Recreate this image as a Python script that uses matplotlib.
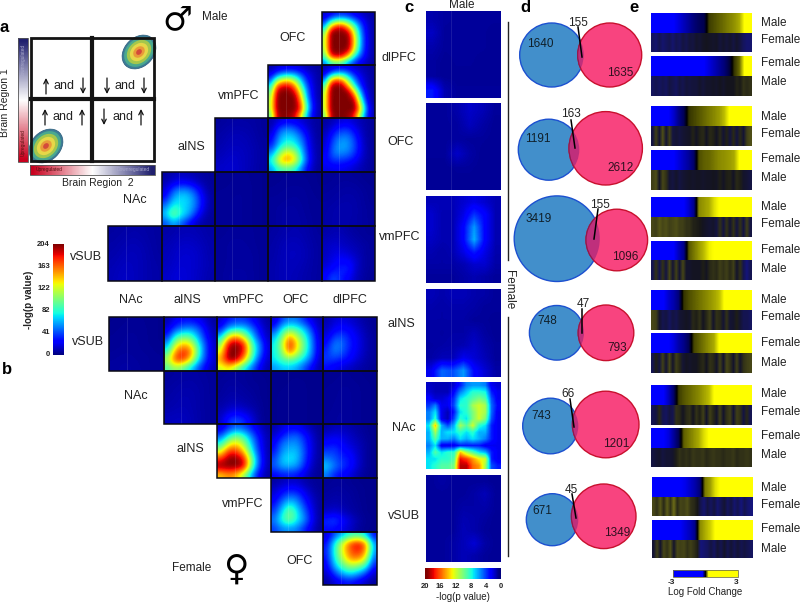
import matplotlib
matplotlib.use("Agg")
import matplotlib.pyplot as plt
import numpy as np
from matplotlib.colors import LinearSegmentedColormap
from matplotlib.patches import Circle, Ellipse, Rectangle

plt.rcParams["font.family"] = ["Liberation Sans", "DejaVu Sans"]

# heatmap values, -log(p) scale 0-204, rows run top to bottom
m_ofc_dlpfc = [[14,22,30,32,28,22,14,10,6],[30,70,95,100,80,55,32,16,8],[60,150,185,185,145,95,48,20,8],[100,204,204,204,195,125,58,22,8],[115,204,204,204,204,140,64,24,8],[115,204,204,204,204,140,64,24,8],[110,204,204,204,195,125,58,22,8],[90,175,195,185,140,78,42,20,8],[50,85,95,85,55,34,20,12,6]]
m_vmpfc_ofc = [[8,14,18,20,18,14,10,8,5],[18,40,55,60,55,38,20,12,6],[40,100,125,130,105,65,30,14,6],[70,165,185,185,155,90,42,16,7],[95,195,204,204,185,120,52,18,7],[110,204,204,204,204,145,60,20,7],[115,204,204,204,204,165,75,24,8],[115,204,204,204,204,175,80,25,8],[95,195,204,200,190,135,60,20,7]]
m_vmpfc_dlpfc = [[8,14,20,22,20,14,10,8,5],[18,50,70,70,52,30,18,10,6],[45,140,170,150,95,52,25,12,6],[85,195,204,200,145,80,35,14,6],[110,204,204,204,200,135,58,18,7],[115,204,204,204,204,185,85,24,7],[115,204,204,204,204,204,120,35,8],[115,204,204,204,204,204,145,48,10],[95,195,204,204,200,180,105,38,9]]
m_ains_vmpfc = [[5,7,7,7,5],[7,10,10,8,5],[8,11,11,9,6],[10,14,12,10,6],[13,15,12,9,6]]
m_ains_ofc = [[8,16,22,20,14,9,5],[10,42,55,45,26,11,5],[20,58,72,65,42,14,5],[28,68,85,78,52,16,6],[50,100,140,115,60,18,6],[75,145,160,140,70,20,6],[55,85,90,80,42,14,5]]
m_ains_dlpfc = [[6,10,16,18,12,8,5],[8,22,35,35,20,9,5],[12,36,52,52,30,10,5],[14,44,62,56,36,12,5],[18,50,55,50,32,12,5],[24,35,35,30,22,10,5],[18,20,20,18,12,8,5]]
m_nac_ains = [[6,10,12,10,8,6,5],[10,20,26,24,16,8,5],[16,45,60,55,38,14,5],[28,62,72,68,48,20,6],[50,82,72,65,48,18,6],[65,105,78,62,32,12,5],[40,60,45,28,12,7,5]]
m_nac_vmpfc = [[3,4,4,4,3],[4,4,5,4,3],[4,5,5,4,3],[4,5,5,4,3],[4,5,5,4,3]]
m_nac_ofc = [[3,4,4,4,3],[4,5,5,5,3],[5,5,6,5,4],[5,7,7,5,4],[5,7,7,6,4]]
m_nac_dlpfc = [[4,5,5,4,3],[5,6,7,6,4],[6,7,8,7,4],[7,9,9,7,5],[7,9,8,7,5]]
m_vsub_nac = [[6,7,8,7,6],[7,9,10,8,6],[8,10,11,9,6],[9,12,11,9,7],[10,13,11,9,7]]
m_vsub_ains = [[7,9,10,9,7],[9,12,13,11,8],[10,14,15,13,8],[11,15,15,13,9],[13,17,15,12,8]]
m_vsub_vmpfc = [[4,5,5,5,4],[5,6,6,5,4],[5,6,6,6,4],[5,6,6,6,4],[5,7,7,6,4]]
m_vsub_ofc = [[6,8,9,8,5],[7,10,11,9,6],[7,11,12,10,6],[8,11,11,9,6],[8,11,10,8,6]]
m_vsub_dlpfc = [[7,9,9,7,5,5,4],[9,11,11,9,7,5,5],[11,15,13,11,9,7,5],[11,17,19,15,11,7,5],[13,21,24,24,15,7,5],[17,26,32,32,13,7,5],[24,42,30,22,11,6,4]]

f_vsub_nac = [[3,4,4,4,3],[4,5,5,4,3],[4,5,5,4,3],[5,6,5,5,4],[6,7,6,5,4]]
f_vsub_ains = [[9,20,26,26,22,14,6],[16,38,50,55,44,22,8],[30,78,95,90,60,28,10],[55,118,145,132,80,38,12],[80,155,180,165,92,38,12],[115,175,180,140,75,36,12],[90,110,95,70,42,22,9]]
f_vsub_vmpfc = [[14,28,35,35,26,14,6],[24,60,70,70,48,24,8],[60,130,155,115,70,32,10],[100,195,204,185,92,52,14],[125,204,204,185,100,52,14],[150,204,204,150,85,36,12],[120,135,105,75,48,22,9]]
f_vsub_ofc = [[14,38,50,48,32,18,8],[32,72,92,82,64,34,10],[60,98,155,115,85,48,12],[72,115,185,140,95,52,14],[72,105,170,125,90,52,14],[72,90,98,88,68,42,10],[55,65,65,58,40,22,8]]
f_vsub_dlpfc = [[8,15,18,15,10,6,4],[11,22,26,22,15,8,4],[16,36,40,28,19,10,5],[25,52,48,30,21,10,5],[32,52,42,28,19,10,5],[36,36,30,24,15,8,5],[26,20,16,12,8,6,4]]
f_nac_ains = [[5,6,7,6,5],[6,8,8,7,5],[7,9,9,7,5],[8,10,9,7,5],[11,12,10,7,5]]
f_nac_vmpfc = [[4,5,5,5,4,3,3],[5,6,6,5,4,4,3],[5,7,7,6,5,4,3],[6,8,8,7,6,4,3],[7,10,12,9,7,5,3],[10,18,22,18,12,5,3],[12,34,42,34,18,6,3]]
f_nac_ofc = [[3,3,3,3,3],[3,3,4,3,3],[3,4,4,3,3],[3,4,4,3,3],[3,4,4,3,3]]
f_nac_dlpfc = [[3,4,4,3,3],[4,5,5,4,3],[4,5,5,4,3],[4,6,5,4,3],[5,6,5,4,3]]
f_ains_vmpfc = [[14,32,44,38,28,14,6],[40,75,98,82,48,24,8],[75,122,138,110,64,28,8],[120,175,175,140,75,32,8],[175,204,204,185,102,38,8],[204,204,204,195,98,36,8],[140,155,145,110,58,20,6]]
f_ains_ofc = [[8,16,22,22,15,8,4],[14,28,42,45,30,15,4],[22,48,55,55,36,17,5],[27,55,64,64,40,17,5],[38,66,74,66,38,15,5],[42,60,62,55,32,12,4],[24,28,30,28,17,7,4]]
f_ains_dlpfc = [[6,10,10,8,6,4,3],[15,19,17,13,8,5,3],[24,28,22,15,11,6,3],[35,38,26,22,13,6,3],[50,42,32,28,15,6,3],[68,50,36,28,15,6,3],[50,30,24,18,9,4,3]]
f_vmpfc_ofc = [[6,10,13,13,8,5,4],[13,22,28,26,17,8,4],[19,35,50,45,26,13,5],[27,55,80,62,36,17,5],[38,72,105,75,48,21,5],[50,82,100,75,54,24,5],[36,52,54,50,32,15,4]]
f_vmpfc_dlpfc = [[4,5,5,4,3,3,3],[5,6,6,5,4,3,3],[6,8,7,6,4,3,3],[8,10,8,6,5,3,3],[13,18,13,8,5,3,3],[34,40,26,17,8,4,3],[26,26,19,13,6,3,3]]
f_ofc_dlpfc = [[14,42,60,80,85,70,24],[25,75,125,170,190,165,55],[30,80,128,165,180,160,55],[25,75,115,155,160,130,42],[19,62,90,110,105,85,28],[12,36,60,72,60,38,12],[6,15,25,28,21,12,5]]

# panel c, scale 0-20
c_dlpfc = [[.8,.6,.5,.5,.5,.5],[1.2,.5,.5,.5,.5,.4],[.8,.5,.5,.5,.5,.4],[.6,.4,.5,.5,.4,.4],[.6,.4,.4,.4,.4,.4],[3,.9,.5,.5,.5,.5]]
c_ofc = [[.5,.5,.8,1.3,1,.5],[.5,.5,.6,1.1,.7,.4],[.5,.5,.6,.5,.5,.4],[.5,.5,1.3,.7,.4,.4],[.4,.4,.5,.5,.4,.4],[.4,.4,.4,.4,.4,.4]]
c_vmpfc = [[1,1,1,1.4,1.8,1.4,.9],[1.4,.9,.9,1.8,3.5,2.4,.9],[1.4,.9,.9,2.4,5.5,2.4,.9],[1.2,.9,.9,2.4,6,2.4,.9],[.9,.7,.9,1.8,3,1.8,.8],[.7,.7,.7,.9,1.4,1.4,.7],[.5,.5,.5,.7,.9,.7,.5]]
c_ains = [[1,.8,1,1,.8,.7,.5],[.8,.7,.8,.8,.7,.5,.5],[.7,.7,.7,.7,.5,.5,.4],[.7,.6,.7,.7,1,.6,.4],[.6,.7,.8,.9,1.3,.8,.5],[.7,1,1,2,1.5,1,.5],[2,4.5,4,5.5,2.5,1.5,.7]]
c_nac = [[1.2,1,1,1,1.5,3,5,5.5,5.5,5,2,1.5],[1.5,1,1,1,2.5,5,6.5,8,8,7.5,3,2],[2.5,1.5,1.5,2,3.5,7,8,9,10,9,4,2],[3.5,5,2,2,4,8,8,11,12,11,4.5,2.5],[5,7,2,1,3,7,8,10,12,11,4.5,2],[5,8,2,1,4,8,7,10,12,10,4,2],[7,14,6,4,6,11,9,12,8,7,3,2],[6,11,6,7,7,8,7,8,6,6,3,2],[6,9,6,6,5,7,6,7,6,5,3,2],[5,7,2,2,2,3,3,3,3,2,2,2],[6,9,7,8,8,14,11,9,7,6,3,2],[7,7,8,8,9,18,17,15,13,12,3,2],[7,8,9,9,10,19,19,16,15,11,4,3]]
c_vsub = [[.5,.7,.5,.5,.5,.5,.4],[.5,.5,.5,.5,.7,1,.5],[.5,.5,.5,.7,.7,.8,.5],[.5,.5,.5,.9,.8,.6,.4],[.5,.5,.5,1,.8,.5,.4],[.5,.5,.7,1,1.5,.7,.4],[.5,.5,.7,1,.8,.5,.4]]

# panel d counts: left only, overlap, right only
venn_left = [1640, 1191, 3419, 748, 743, 671]
venn_both = [155, 163, 155, 47, 66, 45]
venn_right = [1635, 2612, 1096, 793, 1201, 1349]

# panel e, log fold change per gene bin
e_top = [
    [-1.5,-1.5,-1.5,-1.5,-1.5,-1.3,-1.1,-.9,-.7,-.55,-.45,.35,.45,.55,.65,.75,.85,1.0,1.5,1.5],
    [-1.5,-1.5,-1.5,-1.5,-1.5,-1.5,-1.5,-1.5,-1.5,-1.5,-1.5,-1.3,-1.1,-.9,-.7,-.4,.3,.6,1.5,1.5],
    [-1.5,-1.5,-1.5,-1.5,-1.2,-.8,-.5,.3,.4,.5,.6,.7,.8,.9,1.1,1.5,1.5,1.5,1.5,1.5],
    [-1.5,-1.5,-1.5,-1.5,-1.5,-1.3,-1.1,-.9,-.6,.45,.55,.6,.7,.8,.85,.9,1.0,1.5,1.5,1.5],
    [-1.5,-1.5,-1.5,-1.5,-1.5,-1.5,-1.5,-1.2,-.8,.8,.9,1.0,1.3,1.5,1.5,1.5,1.5,1.5,1.5,1.5],
    [-1.5,-1.5,-1.5,-1.5,-1.5,-1.1,-.8,.5,.7,.9,1.1,1.4,1.5,1.5,1.5,1.5,1.5,1.5,1.5,1.5],
    [-1.5,-1.5,-1.5,-1.2,-1,-.7,.3,.45,.55,.65,.75,.85,.95,1.1,1.5,1.5,1.5,1.5,1.5,1.5],
    [-1.5,-1.5,-1.5,-1.5,-1.3,-1,-.8,-.5,.4,.55,.7,.85,1.0,1.5,1.5,1.5,1.5,1.5,1.5,1.5],
    [-1.5,-1.5,-1.5,-1.1,-.6,.35,.5,.6,.7,.8,.95,1.1,1.5,1.5,1.5,1.5,1.5,1.5,1.5,1.5],
    [-1.5,-1.5,-1.5,-1.3,-.9,-.5,.55,.7,.85,1.0,1.3,1.5,1.5,1.5,1.5,1.5,1.5,1.5,1.5,1.5],
    [-1.5,-1.5,-1.5,-1.5,-1.5,-1.5,-1.4,-1.2,-1,-.7,.7,.9,1.3,1.5,1.5,1.5,1.5,1.5,1.5,1.5],
    [-1.5,-1.5,-1.5,-1.5,-1.5,-1.5,-1.3,-1.1,-.8,.8,1,1.2,1.5,1.5,1.5,1.5,1.5,1.5,1.5,1.5],
]
e_bottom = [
    [-.5,-.6,-.4,-.6,-.5,-.4,-.6,-.4,-.5,-.3,-.4,-.25,-.3,-.15,-.2,-.1,-.05,-.1,-.15,-.1,-.25,-.15,-.25,-.15,-.3,-.15,-.3,-.5,-.6,-.6],
    [-.5,-.4,-.5,-.4,-.5,-.3,-.4,-.5,-.3,-.4,-.25,-.3,-.25,-.25,-.15,-.25,-.15,-.15,-.1,-.15,-.05,-.15,-.05,-.05,-.05,.1,.05,.2,.15,.2],
    [-.3,.3,-.2,.4,-.2,.3,-.3,-.2,-.3,-.2,-.15,-.1,.1,-.1,.1,.15,-.1,.15,.1,-.1,.15,-.2,.1,-.3,.15,-.3,.15,-.2,.3,.4],
    [.3,.4,-.1,.35,.2,-.2,-.3,-.15,-.3,-.2,-.15,-.1,-.15,-.1,-.1,-.15,-.1,-.1,-.05,-.1,.08,-.1,.08,.1,-.1,.15,.08,-.15,-.2,-.3],
    [.35,.3,.45,.35,.4,.3,.35,.4,.3,.3,.2,.2,.1,.08,.03,-.08,-.15,-.2,-.15,-.3,.2,-.3,.2,-.2,.2,-.3,.2,-.3,.3,-.3],
    [-.4,.2,-.4,.2,-.3,.35,-.2,.3,-.2,.35,-.15,-.15,-.08,-.08,-.08,.08,-.08,.15,.2,.15,.3,.2,.3,.15,.3,-.15,.2,-.4,-.7,-.4],
    [.35,.3,-.15,-.4,-.3,-.5,-.3,-.4,-.2,-.15,-.08,-.15,.15,.08,.2,-.08,.15,.3,-.15,.2,.15,-.2,.2,-.2,-.15,.08,-.2,-.4,-.4,-.5],
    [-.4,.08,-.3,.3,-.2,.35,-.15,.3,.15,-.2,-.08,-.15,-.08,-.08,.08,.15,-.08,.2,.15,-.15,.3,-.15,.35,.2,-.15,.3,-.15,.2,.3,.35],
    [-.4,-.3,.15,-.4,-.5,-.3,-.4,.2,.15,-.08,.15,.2,-.08,.2,.08,.3,-.15,.3,.15,-.15,.3,-.15,.2,.3,-.2,.3,.2,-.3,.15,-.4],
    [-.3,-.2,-.15,-.3,-.2,-.2,-.15,.08,.2,.15,.2,.15,.25,.2,.2,.25,.15,.2,.25,.2,.2,.15,.2,.2,.25,.15,.2,.2,.25,.2],
    [.35,.2,.45,.15,.5,.2,.6,.15,.35,.3,.4,.2,.15,.03,-.4,-.6,-.3,-.5,-.3,-.6,-.4,-.2,-.5,-.3,-.6,-.4,-.7,-.4,-.6,-.7],
    [-.2,.3,-.15,.35,.2,.4,-.15,.35,.3,.35,.2,.3,.2,.08,-.7,-.6,-.5,-.3,-.5,-.2,-.4,-.15,-.4,-.2,-.4,-.2,-.4,-.3,-.4,-.5],
]
e_scale = [-3,-3,-3,-3,-3,-3,-3,-3,-3,-1.5,0,1.5,3,3,3,3,3,3,3,3,3]
e_labels = ["Male","Female","Female","Male","Male","Female","Female","Male","Male","Female","Female","Male",
            "Male","Female","Female","Male","Male","Female","Female","Male","Male","Female","Female","Male"]

fig = plt.figure(figsize=(8, 6.02), dpi=100)
ax = fig.add_axes([0, 0, 1, 1])

bye = LinearSegmentedColormap.from_list("bye", ["#0000ff", "#000000", "#ffff00"])
rwb = LinearSegmentedColormap.from_list("rwb", ["#c8001e", "#ffffff", "#20206e"])

def txt(x, y, s, size=9, **kw):
    kw.setdefault("ha", "center")
    kw.setdefault("va", "center")
    kw.setdefault("color", "#222222")
    ax.text(x, y, s, fontsize=size, **kw)

def heat(vals, x0, x1, y0, y1, vmax=204, box=True, interp="bicubic"):
    ax.imshow(vals, cmap="jet", vmin=0, vmax=vmax, extent=(x0, x1, y1, y0), aspect="auto",
              interpolation=interp, zorder=2)
    ax.plot([x0 + (x1 - x0) * .33] * 2, [y0, y1], color="white", lw=.6, alpha=.12, zorder=3)
    if box:
        ax.add_patch(Rectangle((x0, y0), x1 - x0, y1 - y0, fill=False, ec="#0a0a14", lw=1.1, zorder=4))

# panel b, male triangle
mx = [108, 162, 215, 268, 322, 375]
my = [12, 65, 118, 172, 226, 281]
male = {
    (0, 4): m_ofc_dlpfc, (1, 3): m_vmpfc_ofc, (1, 4): m_vmpfc_dlpfc,
    (2, 2): m_ains_vmpfc, (2, 3): m_ains_ofc, (2, 4): m_ains_dlpfc,
    (3, 1): m_nac_ains, (3, 2): m_nac_vmpfc, (3, 3): m_nac_ofc, (3, 4): m_nac_dlpfc,
    (4, 0): m_vsub_nac, (4, 1): m_vsub_ains, (4, 2): m_vsub_vmpfc, (4, 3): m_vsub_ofc, (4, 4): m_vsub_dlpfc,
}
for (r, c), v in male.items():
    heat(v, mx[c], mx[c + 1], my[r], my[r + 1])

fx = [109, 164, 217, 271, 323, 377]
fy = [317, 371, 424, 478, 532, 585]
female = {
    (0, 0): f_vsub_nac, (0, 1): f_vsub_ains, (0, 2): f_vsub_vmpfc, (0, 3): f_vsub_ofc, (0, 4): f_vsub_dlpfc,
    (1, 1): f_nac_ains, (1, 2): f_nac_vmpfc, (1, 3): f_nac_ofc, (1, 4): f_nac_dlpfc,
    (2, 2): f_ains_vmpfc, (2, 3): f_ains_ofc, (2, 4): f_ains_dlpfc,
    (3, 3): f_vmpfc_ofc, (3, 4): f_vmpfc_dlpfc, (4, 4): f_ofc_dlpfc,
}
for (r, c), v in female.items():
    heat(v, fx[c], fx[c + 1], fy[r], fy[r + 1])

for x, s in zip([131, 187, 244, 296, 350], ["NAc", "aINS", "vmPFC", "OFC", "dlPFC"]):
    txt(x, 300, s)
for x, y, s in [(293, 38, "OFC"), (239, 96, "vmPFC"), (191, 147, "aINS"), (135, 200, "NAc"), (86, 257, "vSUB"),
                (88, 342, "vSUB"), (136, 396, "NAc"), (190, 449, "aINS"), (243, 504, "vmPFC"), (300, 561, "OFC"),
                (215, 17, "Male"), (192, 568, "Female")]:
    txt(x, y, s, size=8.5 if s in ("Male", "Female") else 9)
txt(177, 20, "\u2642", size=24, family="DejaVu Sans", color="black")
txt(236, 570, "\u2640", size=25, family="DejaVu Sans", color="black")

# jet colour bar for b
ax.imshow(np.arange(204, -1, -1).reshape(-1, 1), cmap="jet", extent=(53, 64, 355, 244), aspect="auto", zorder=2)
for y, s in zip([244, 267, 289, 311, 333, 355], ["204", "163", "122", "82", "41", "0"]):
    txt(50, y, s, size=5.5, ha="right", fontweight="bold")
txt(29, 300, "-log(p value)", size=7, rotation=90, fontweight="bold")

# panel a
for cx, cy in [(139, 52), (46, 146)]:
    for k, col in zip([1, .88, .72, .54, .34, .17], ["#3c7c96", "#4aa98e", "#a4c74c", "#e6d748", "#e89a3a", "#d44a3a"]):
        ax.add_patch(Ellipse((cx, cy), 38 * k, 29 * k, angle=-45, fc=col, ec="#2a5a7a" if k == 1 else "none", lw=.5, zorder=2))
ax.add_patch(Rectangle((31, 38), 123, 123, fill=False, ec="#141414", lw=2, zorder=4))
ax.plot([92, 92], [38, 161], color="#141414", lw=3, zorder=4)
ax.plot([31, 154], [99, 99], color="#141414", lw=3, zorder=4)
ramp = np.arange(0, 21)
ax.imshow(ramp.reshape(1, -1), cmap=rwb, extent=(30, 155, 175, 165), aspect="auto", interpolation="bilinear", zorder=2)
ax.imshow(ramp[::-1].reshape(-1, 1), cmap=rwb, extent=(18, 28, 162, 38), aspect="auto", interpolation="bilinear", zorder=2)
ax.add_patch(Rectangle((30, 165), 125, 10, fill=False, ec="#555555", lw=.6, zorder=3))
ax.add_patch(Rectangle((18, 38), 10, 124, fill=False, ec="#555555", lw=.6, zorder=3))
txt(49, 170, "Upregulated", size=3.5, color="#551111")
txt(133, 170, "Downregulated", size=3.5, color="#aaaacc")
txt(23, 60, "Downregulated", size=3.5, rotation=90, color="#aaaacc")
txt(23, 143, "Upregulated", size=3.5, rotation=90, color="#551111")
txt(5, 103, "Brain Region 1", size=7.5, rotation=90)
txt(98, 183, "Brain Region  2", size=7.5)
arrow_up = [(46, 86), (45, 117), (82, 117), (141, 117)]
arrow_down = [(83, 86), (107, 86), (144, 86), (104, 117)]
for x, y in arrow_up:
    ax.annotate("", xy=(x, y - 8), xytext=(x, y + 8), zorder=5,
                arrowprops=dict(arrowstyle="->", lw=.9, color="#111111", shrinkA=0, shrinkB=0, mutation_scale=8))
for x, y in arrow_down:
    ax.annotate("", xy=(x, y + 8), xytext=(x, y - 8), zorder=5,
                arrowprops=dict(arrowstyle="->", lw=.9, color="#111111", shrinkA=0, shrinkB=0, mutation_scale=8))
for x, y in [(64, 86), (125, 86), (63, 117), (123, 117)]:
    txt(x, y, "and", size=9, zorder=5)

# panel c
c_x = [426, 501]
c_y = [(11, 98), (103, 190), (196, 283), (289, 377), (382, 469), (475, 562)]
c_vals = [c_dlpfc, c_ofc, c_vmpfc, c_ains, c_nac, c_vsub]
c_lab = [(399, 58, "dlPFC"), (401, 142, "OFC"), (400, 237, "vmPFC"), (401, 324, "aINS"), (404, 428, "NAc"), (404, 516, "vSUB")]
for (y0, y1), v, (lx, ly, s) in zip(c_y, c_vals, c_lab):
    heat(v, c_x[0], c_x[1], y0, y1, vmax=20, box=False, interp="bilinear")
    txt(lx, ly, s)
ax.imshow(np.arange(20, -1, -1).reshape(1, -1), cmap="jet", extent=(425, 501, 579, 568), aspect="auto", interpolation="bilinear", zorder=2)
for x, s in zip([425, 440, 456, 471, 486, 501], ["20", "16", "12", "8", "4", "0"]):
    txt(x, 587, s, size=5.5, fontweight="bold")
txt(463, 597, "-log(p value)", size=7)
txt(462, 5, "Male", size=8.5)
ax.plot([508, 508], [22, 260], color="#222222", lw=1)
ax.plot([508, 508], [317, 556], color="#222222", lw=1)
txt(509, 290, "Female", size=8.5, rotation=-90)

# panel d
v_blue = [(551.7, 55, 32), (548.8, 149.7, 30.5), (557, 238.7, 42.8), (556.7, 332.8, 27.3), (550.5, 426, 27.8), (552.3, 519.7, 26)]
v_pink = [(609.7, 55, 32), (605.7, 148.3, 36.7), (616.8, 240, 30.8), (606, 332.8, 27.8), (605.7, 424.5, 33.3), (603.7, 516.3, 32.3)]
v_left_xy = [(540, 44), (538, 139), (539, 219), (547, 321), (541, 416), (542, 511)]
v_right_xy = [(620, 73), (621, 168), (625, 257), (617, 348), (616, 444), (617, 533)]
v_both_xy = [(578, 23), (571, 114), (600, 205), (583, 304), (568, 394), (571, 490)]
v_tick = [((578, 27), (582, 57)), ((571, 120), (575, 148)), ((598, 209), (594, 239)),
          ((582, 309), (582, 333)), ((570, 399), (574, 427)), ((572, 494), (576, 518))]
for i in range(6):
    bx, by, br = v_blue[i]
    px, py, pr = v_pink[i]
    ax.add_patch(Circle((bx, by), br, fc="#428fcb", ec="#1c50d0", lw=1, zorder=2))
    ax.add_patch(Circle((px, py), pr, fc="#f8447f", ec="#c8102e", lw=1, zorder=3))
    blue_clip = Circle((bx, by), br, transform=ax.transData)
    over = Circle((px, py), pr, fc="#bf2f7c", ec="#8a1a50", lw=.8, zorder=4)
    ax.add_patch(over)
    over.set_clip_path(blue_clip)
    txt(*v_left_xy[i], str(venn_left[i]), size=8.5, color="#10202a", zorder=6)
    txt(*v_right_xy[i], str(venn_right[i]), size=8.5, color="#301020", zorder=6)
    txt(*v_both_xy[i], str(venn_both[i]), size=8.5, zorder=6)
    (x0, y0), (x1, y1) = v_tick[i]
    ax.plot([x0, x1], [y0, y1], color="black", lw=1.1, zorder=5)

# panel e
e_y = [(13, 33, 52), (56, 76, 96), (106, 126, 146), (150, 170, 190), (197, 217, 237), (241, 260, 280),
       (290, 310, 330), (333, 353, 373), (385, 405, 425), (428, 448, 467), (477, 497, 516), (520, 540, 558)]
for i, (y0, y1, y2) in enumerate(e_y):
    x0, x1 = (652, 753) if i >= 10 else (651, 752)
    ax.imshow([e_top[i]], cmap=bye, vmin=-1.5, vmax=1.5, extent=(x0, x1, y1, y0), aspect="auto",
              interpolation="bilinear", zorder=2)
    ax.imshow([e_bottom[i]], cmap=bye, vmin=-1.5, vmax=1.5, extent=(x0, x1, y2, y1), aspect="auto",
              interpolation="bilinear", interpolation_stage="rgba", zorder=2)
    # the strips look washed out in the original
    ax.add_patch(Rectangle((x0, y1), x1 - x0, y2 - y1, fc="#808090", ec="none", alpha=.16, zorder=3))
e_lab_y = [23, 40, 63, 82, 117, 134, 159, 178, 207, 224, 250, 269, 300, 317, 343, 363, 394, 412, 436, 455, 488, 505, 529, 549]
for y, s in zip(e_lab_y, e_labels):
    txt(761, y, s, size=8.5, ha="left")
ax.imshow([e_scale], cmap=bye, vmin=-1.5, vmax=1.5, extent=(673, 738, 577, 570), aspect="auto", interpolation="bilinear", zorder=2)
ax.add_patch(Rectangle((673, 570), 65, 7, fill=False, ec="#777744", lw=.6, zorder=3))
txt(671, 583, "-3", size=6, fontweight="bold")
txt(736, 583, "3", size=6, fontweight="bold")
txt(705, 592, "Log Fold Change", size=7)

for x, y, s in [(4, 27, "a"), (7, 370, "b"), (409, 8, "c"), (525, 8, "d"), (634, 8, "e")]:
    txt(x, y, s, size=12, fontweight="bold", color="black")

ax.set_xlim(0, 800)
ax.set_ylim(602, 0)
ax.axis("off")
fig.savefig("out.png", dpi=100)
